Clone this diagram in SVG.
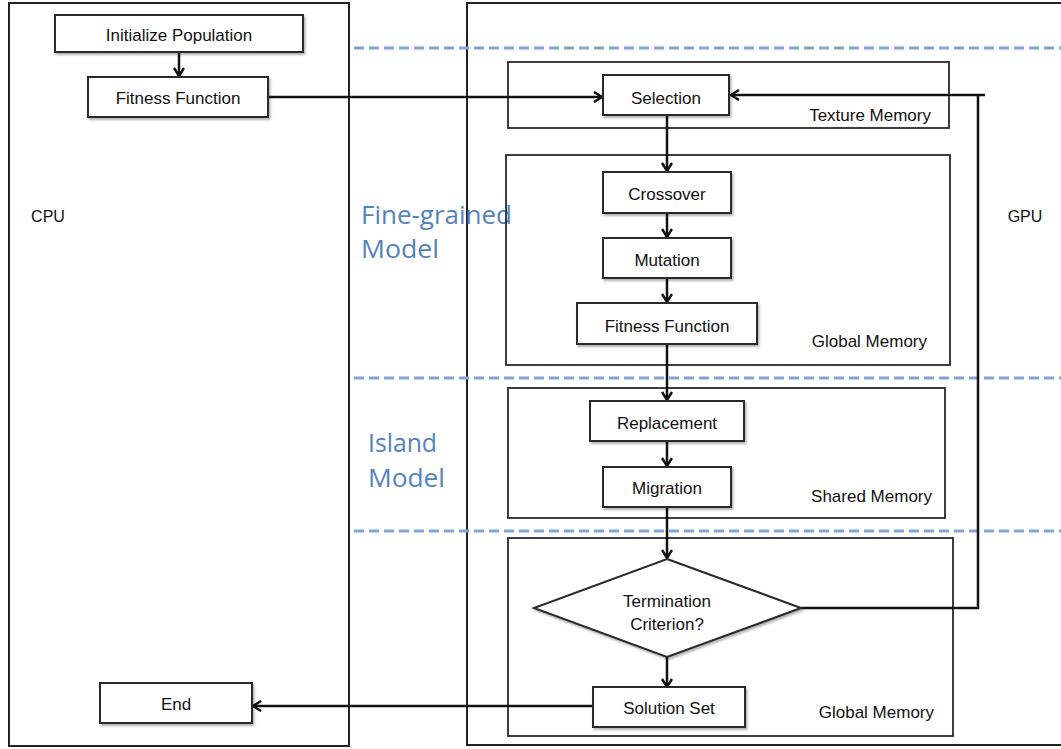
<svg xmlns="http://www.w3.org/2000/svg" width="1061" height="749" viewBox="0 0 1061 749">
<style>
.bg{fill:#ffffff}
.frame{fill:none;stroke:#222;stroke-width:2}
.mem{fill:none;stroke:#2a2a2a;stroke-width:1.8}
.box{fill:#ffffff;stroke:#2a2a2a;stroke-width:2;filter:url(#sh)}
.dash{stroke:#7fa6d4;stroke-width:3;stroke-dasharray:10 5;fill:none}
.lbl{font-family:"Liberation Sans",Arial,sans-serif;font-size:17px;fill:#111;text-anchor:middle}
.mlbl{font-family:"Liberation Sans",Arial,sans-serif;font-size:17px;fill:#111;text-anchor:end}
.side{font-family:"Liberation Sans",Arial,sans-serif;font-size:16px;fill:#111;text-anchor:middle}
.model{font-family:"Open Sans","Liberation Sans",sans-serif;font-size:25px;fill:#5582bd}
.conn{fill:none;stroke:#111;stroke-width:2.5}
</style>
<defs>
<filter id="sh" x="-10%" y="-10%" width="130%" height="140%">
<feDropShadow dx="1.5" dy="2" stdDeviation="1.2" flood-color="#000" flood-opacity="0.3"/>
</filter>
<marker id="arr" markerWidth="12" markerHeight="12" refX="9" refY="6" orient="auto" markerUnits="userSpaceOnUse">
<path d="M1,1 L9,6 L1,11" fill="none" stroke="#111" stroke-width="2.5"/>
</marker>
</defs>
<rect class="bg" x="0" y="0" width="1061" height="749"/>

<g id="cpu-frame">
<rect class="frame" x="9" y="3" width="340" height="743"/>
<text class="side" x="48" y="222">CPU</text>
</g>
<g id="gpu-frame">
<rect class="frame" x="467" y="3" width="600" height="742"/>
<text class="side" x="1025" y="222">GPU</text>
</g>

<g id="separators">
<line class="dash" x1="354" y1="48" x2="1061" y2="48"/>
<line class="dash" x1="354" y1="378" x2="1061" y2="378"/>
<line class="dash" x1="354" y1="531" x2="1061" y2="531"/>
</g>

<g id="fine-grained-label">
<text class="model" x="361" y="224" textLength="151" lengthAdjust="spacingAndGlyphs">Fine-grained</text>
<text class="model" x="361" y="258" textLength="78" lengthAdjust="spacingAndGlyphs">Model</text>
</g>
<g id="island-label">
<text class="model" x="368" y="452" textLength="69" lengthAdjust="spacingAndGlyphs">Island</text>
<text class="model" x="368" y="487" textLength="77" lengthAdjust="spacingAndGlyphs">Model</text>
</g>

<g id="texture-memory">
<rect class="mem" x="508" y="62" width="441" height="66"/>
<text class="mlbl" x="931" y="121">Texture Memory</text>
</g>
<g id="global-memory-1">
<rect class="mem" x="506" y="155" width="444" height="210"/>
<text class="mlbl" x="927" y="347">Global Memory</text>
</g>
<g id="shared-memory">
<rect class="mem" x="508" y="388" width="437" height="130"/>
<text class="mlbl" x="932" y="502">Shared Memory</text>
</g>
<g id="global-memory-2">
<rect class="mem" x="508" y="538" width="445" height="198"/>
<text class="mlbl" x="934" y="718">Global Memory</text>
</g>

<g id="connectors">
<line class="conn" x1="179" y1="52" x2="179" y2="76" marker-end="url(#arr)"/>
<line class="conn" x1="268" y1="97" x2="602" y2="97" marker-end="url(#arr)"/>
<line class="conn" x1="667" y1="115" x2="667" y2="171" marker-end="url(#arr)"/>
<line class="conn" x1="667" y1="213" x2="667" y2="237" marker-end="url(#arr)"/>
<line class="conn" x1="667" y1="278" x2="667" y2="302" marker-end="url(#arr)"/>
<line class="conn" x1="667" y1="344" x2="667" y2="400" marker-end="url(#arr)"/>
<line class="conn" x1="667" y1="441" x2="667" y2="466" marker-end="url(#arr)"/>
<line class="conn" x1="667" y1="507" x2="667" y2="558" marker-end="url(#arr)"/>
<line class="conn" x1="667" y1="657" x2="667" y2="687" marker-end="url(#arr)"/>
<polyline class="conn" points="801,608 978,608 978,95"/>
<line class="conn" x1="985" y1="95" x2="731" y2="95" marker-end="url(#arr)"/>
<line class="conn" x1="593" y1="706" x2="253" y2="706" marker-end="url(#arr)"/>
</g>

<g id="initialize-population">
<rect class="box" x="55" y="15" width="248" height="37"/>
<text class="lbl" x="179" y="41">Initialize Population</text>
</g>
<g id="fitness-function-cpu">
<rect class="box" x="88" y="77" width="180" height="40"/>
<text class="lbl" x="178" y="104">Fitness Function</text>
</g>
<g id="end">
<rect class="box" x="100" y="683" width="152" height="40"/>
<text class="lbl" x="176" y="710">End</text>
</g>
<g id="selection">
<rect class="box" x="603" y="75" width="126" height="40"/>
<text class="lbl" x="666" y="104">Selection</text>
</g>
<g id="crossover">
<rect class="box" x="603" y="172" width="128" height="41"/>
<text class="lbl" x="667" y="200">Crossover</text>
</g>
<g id="mutation">
<rect class="box" x="603" y="238" width="128" height="40"/>
<text class="lbl" x="667" y="266">Mutation</text>
</g>
<g id="fitness-function-gpu">
<rect class="box" x="577" y="303" width="180" height="41"/>
<text class="lbl" x="667" y="332">Fitness Function</text>
</g>
<g id="replacement">
<rect class="box" x="590" y="401" width="154" height="40"/>
<text class="lbl" x="667" y="429">Replacement</text>
</g>
<g id="migration">
<rect class="box" x="603" y="467" width="128" height="40"/>
<text class="lbl" x="667" y="494">Migration</text>
</g>
<g id="termination-criterion">
<polygon class="box" points="667,559 801,608 667,657 534,608"/>
<text class="lbl" x="667" y="607">Termination</text>
<text class="lbl" x="667" y="630">Criterion?</text>
</g>
<g id="solution-set">
<rect class="box" x="593" y="687" width="152" height="40"/>
<text class="lbl" x="669" y="714">Solution Set</text>
</g>
</svg>
